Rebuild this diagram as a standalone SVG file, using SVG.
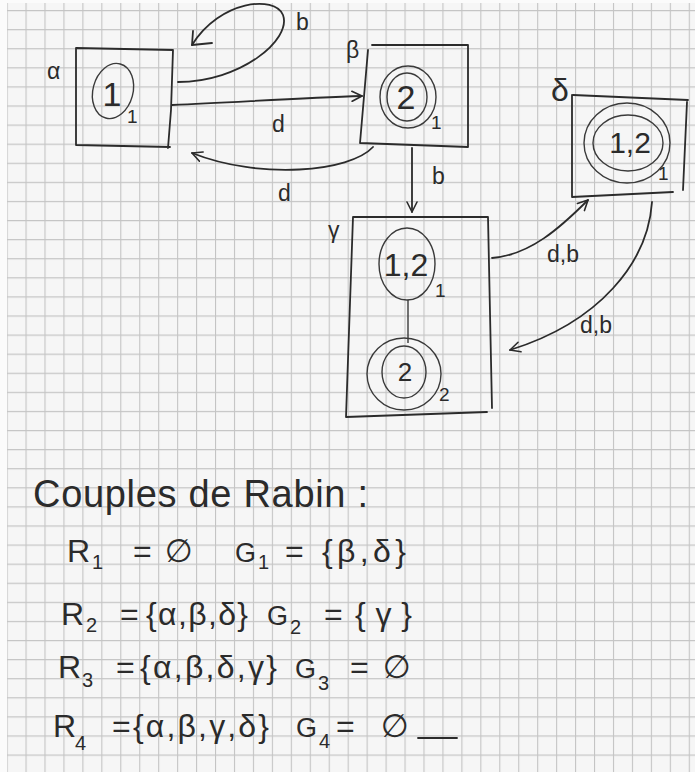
<svg xmlns="http://www.w3.org/2000/svg" width="695" height="772" viewBox="0 0 695 772">
<defs>
<pattern id="grid" patternUnits="userSpaceOnUse" x="25.5" y="10" width="18.95" height="19.09">
<path d="M0.5 0 V19.09 M0 0.5 H18.95" stroke="#c4c4c4" stroke-width="1.2" fill="none"/>
</pattern>
<marker id="arr" viewBox="0 0 12 12" refX="11" refY="6" markerWidth="12" markerHeight="12" markerUnits="userSpaceOnUse" orient="auto">
<path d="M1 1 L11 6 L1 11" fill="none" stroke="#2b2b2b" stroke-width="1.6" stroke-linecap="round" stroke-linejoin="round"/>
</marker>
</defs>
<style>
.ink{fill:none;stroke:#2b2b2b;stroke-width:1.8;stroke-linecap:round;stroke-linejoin:round}
.thin{fill:none;stroke:#3a3a3a;stroke-width:1.4}
.t{font-family:"Liberation Sans","DejaVu Sans",sans-serif;fill:#2b2b2b}
.lbl{font-size:23px}
.in{font-size:34px;text-anchor:middle}
.sub{font-size:19px}
.big{font-size:38px}
.eq{font-size:32px}
.g{font-size:27px}
.es{font-size:20px}
</style>
<rect width="695" height="772" fill="#fbfbfb"/>
<rect x="7" y="3" width="688" height="769" fill="#f6f6f6"/>
<rect x="7" y="3" width="688" height="769" fill="url(#grid)"/>

<g id="connectors">
<path class="ink" d="M178 82 C240 82 292 40 283 15 C275 -5 220 0 192 45"/>
<path class="ink" d="M193 31 L192 45 L212 43"/>
<text class="t lbl" x="296" y="30">b</text>
<path class="ink" d="M172 105 C240 102 300 98 362 96" marker-end="url(#arr)"/>
<text class="t lbl" x="272" y="132">d</text>
<path class="ink" d="M373 147 C350 172 260 180 192 153" marker-end="url(#arr)"/>
<text class="t lbl" x="278" y="201">d</text>
<path class="ink" d="M412 148 L412 212" marker-end="url(#arr)"/>
<text class="t lbl" x="432" y="184">b</text>
<path class="ink" d="M492 258 C530 255 560 228 588 200" marker-end="url(#arr)"/>
<text class="t lbl" x="547" y="262">d,b</text>
<path class="ink" d="M652 202 C648 262 600 322 510 350" marker-end="url(#arr)"/>
<text class="t lbl" x="580" y="333">d,b</text>
</g>

<g id="alpha">
<path class="ink" d="M76 48 L173 50 L171 110 L168 148 M76 48 L76 145 L170 147"/>
<text class="t lbl" x="47" y="79">α</text>
<ellipse class="thin" cx="113" cy="91" rx="20" ry="28" transform="rotate(15 113 91)"/>
<text class="t in" x="112" y="106">1</text>
<text class="t sub" x="127" y="123">1</text>
</g>

<g id="beta">
<path class="ink" d="M372 45 L468 45 L468 147 L360 143 L368 50"/>
<text class="t lbl" x="346" y="58">β</text>
<ellipse class="thin" cx="408" cy="97" rx="28" ry="31"/>
<ellipse class="thin" cx="407" cy="97" rx="20" ry="24"/>
<text class="t in" x="406" y="109">2</text>
<text class="t sub" x="431" y="129">1</text>
</g>

<g id="gamma">
<path class="ink" d="M353 217 L488 217 L492 408 M487 412 L346 417 L353 217"/>
<text class="t lbl" x="328" y="238">γ</text>
<ellipse class="thin" cx="407" cy="264" rx="28" ry="36"/>
<text class="t" x="406" y="276" font-size="32" text-anchor="middle">1,2</text>
<text class="t sub" x="435" y="297">1</text>
<path class="thin" d="M408 300 L408 343"/>
<ellipse class="thin" cx="404" cy="374" rx="37" ry="36"/>
<ellipse class="thin" cx="404" cy="372" rx="22" ry="26"/>
<text class="t" x="405" y="381" font-size="26" text-anchor="middle">2</text>
<text class="t sub" x="439" y="401">2</text>
</g>

<g id="delta">
<path class="ink" d="M573 95 L688 100 M687 102 L683 190 M673 192 L572 197 L572 95"/>
<text class="t" x="551" y="101" font-size="32">δ</text>
<ellipse class="thin" cx="627" cy="143" rx="43" ry="40"/>
<ellipse class="thin" cx="628" cy="143" rx="35" ry="28"/>
<text class="t" x="630" y="153" font-size="30" text-anchor="middle">1,2</text>
<text class="t sub" x="658" y="180">1</text>
</g>

<g id="rabin">
<text class="t big" x="33" y="507" textLength="335" lengthAdjust="spacing">Couples de Rabin :</text>

<text class="t eq" x="67" y="562">R</text>
<text class="t es" x="92" y="569">1</text>
<text class="t eq" x="133" y="562">=</text>
<text class="t eq" x="165" y="562">∅</text>
<text class="t g" x="235" y="562">G</text>
<text class="t es" x="258" y="569">1</text>
<text class="t eq" x="285" y="562">=</text>
<text class="t eq" x="322" y="562" textLength="84" lengthAdjust="spacing">{β,δ}</text>

<text class="t eq" x="61" y="625">R</text>
<text class="t es" x="86" y="632">2</text>
<text class="t eq" x="120" y="625">=</text>
<text class="t eq" x="146" y="625" textLength="102" lengthAdjust="spacing">{α,β,δ}</text>
<text class="t g" x="267" y="625">G</text>
<text class="t es" x="290" y="634">2</text>
<text class="t eq" x="324" y="625">=</text>
<text class="t eq" x="355" y="625" textLength="57" lengthAdjust="spacing">{γ}</text>

<text class="t eq" x="58" y="678">R</text>
<text class="t es" x="82" y="687">3</text>
<text class="t eq" x="116" y="678">=</text>
<text class="t eq" x="140" y="678" textLength="137" lengthAdjust="spacing">{α,β,δ,γ}</text>
<text class="t g" x="295" y="678">G</text>
<text class="t es" x="318" y="690">3</text>
<text class="t eq" x="350" y="678">=</text>
<text class="t eq" x="383" y="678">∅</text>

<text class="t eq" x="53" y="737">R</text>
<text class="t es" x="75" y="750" font-size="22">4</text>
<text class="t eq" x="112" y="737">=</text>
<text class="t eq" x="133" y="737" textLength="136" lengthAdjust="spacing">{α,β,γ,δ}</text>
<text class="t g" x="296" y="737">G</text>
<text class="t es" x="319" y="748">4</text>
<text class="t eq" x="336" y="737">=</text>
<text class="t eq" x="381" y="737">∅</text>
<path class="ink" d="M418 738 L457 738"/>
</g>
</svg>
